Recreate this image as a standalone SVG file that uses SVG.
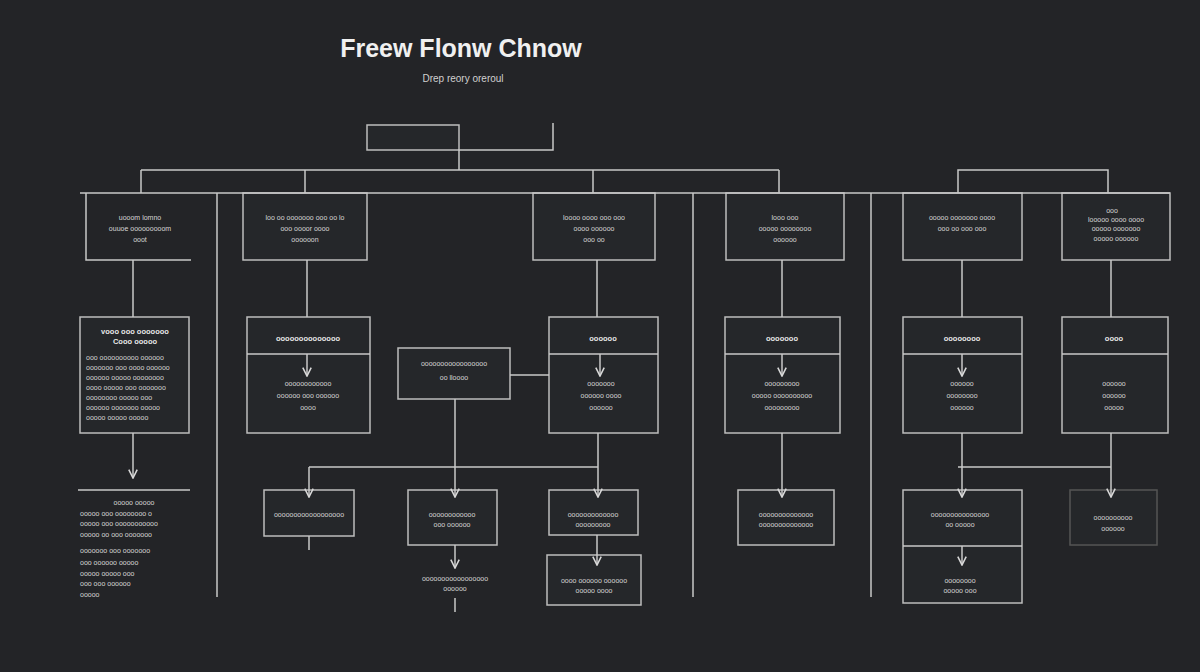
<svg xmlns="http://www.w3.org/2000/svg" width="1200" height="672" viewBox="0 0 1200 672">
<defs>
<marker id="ar" viewBox="0 0 10 10" refX="9" refY="5" markerWidth="7" markerHeight="7" orient="auto"><path d="M1,1 L9,5 L1,9" fill="none" stroke="#d8d8d8" stroke-width="1.5"/></marker>
<style>
.b{fill:#25272a;stroke:#bdbdbd;stroke-width:1.5}
.l{fill:none;stroke:#c8c8c8;stroke-width:1.5}
.a{fill:none;stroke:#c8c8c8;stroke-width:1.5;marker-end:url(#ar)}
.t{font-family:"Liberation Sans",Arial,sans-serif;font-size:7px;fill:#d6d6d6;text-anchor:middle}
.h{font-family:"Liberation Sans",Arial,sans-serif;font-size:7.5px;fill:#e8e8e8;text-anchor:middle;font-weight:bold}
.tl{font-family:"Liberation Sans",Arial,sans-serif;font-size:7px;fill:#d6d6d6}
</style>
</defs>
<rect width="1200" height="672" fill="#232427"/>
<text x="461" y="57" font-family="Liberation Sans,Arial,sans-serif" font-size="25" font-weight="bold" fill="#f0f0f0" text-anchor="middle">Freew Flonw Chnow</text>
<text x="463" y="82" font-family="Liberation Sans,Arial,sans-serif" font-size="10" fill="#d0d0d0" text-anchor="middle">Drep reory oreroul</text>
<g id="top"><path class="b" d="M367,125 H459 V150 H367 Z"/></g>
<g id="r1a"><path class="l" d="M86,193 V260 H191"/><text class="t" x="140" y="220">uooom lomno</text><text class="t" x="140" y="231">ouuoe ooooooooom</text><text class="t" x="140" y="242">ooot</text></g>
<g id="r1b"><rect class="b" x="243" y="193" width="124" height="67"/><text class="t" x="305" y="220">loo oo ooooooo ooo oo lo</text><text class="t" x="305" y="231">ooo oooor oooo</text><text class="t" x="305" y="242">oooooon</text></g>
<g id="r1c"><rect class="b" x="533" y="193" width="122" height="67"/><text class="t" x="594" y="220">loooo oooo ooo ooo</text><text class="t" x="594" y="231">oooo oooooo</text><text class="t" x="594" y="242">ooo oo</text></g>
<g id="r1d"><rect class="b" x="726" y="193" width="118" height="67"/><text class="t" x="785" y="220">looo ooo</text><text class="t" x="785" y="231">ooooo oooooooo</text><text class="t" x="785" y="242">oooooo</text></g>
<g id="r1e"><rect class="b" x="903" y="193" width="119" height="67"/><text class="t" x="962" y="220">ooooo ooooooo oooo</text><text class="t" x="962" y="231">ooo oo ooo ooo</text></g>
<g id="r1f"><rect class="b" x="1062" y="193" width="108" height="67"/><text class="t" x="1112" y="213">ooo</text><text class="t" x="1116" y="222">looooo oooo oooo</text><text class="t" x="1116" y="231">ooooo ooooooo</text><text class="t" x="1116" y="241">ooooo oooooo</text></g>
<g id="r2a"><rect class="b" x="80" y="317" width="109" height="116"/><text class="h" x="135" y="334">vooo ooo ooooooo</text><text class="h" x="135" y="344">Cooo ooooo</text>
<text class="tl" x="86" y="360">ooo oooooooooo oooooo</text><text class="tl" x="86" y="370">ooooooo ooo oooo oooooo</text><text class="tl" x="86" y="380">oooooo ooooo oooooooo</text><text class="tl" x="86" y="390">oooo ooooo ooo ooooooo</text><text class="tl" x="86" y="400">oooooooo ooooo ooo</text><text class="tl" x="86" y="410">oooooo ooooooo ooooo</text><text class="tl" x="86" y="420">ooooo ooooo ooooo</text></g>
<g id="r2b"><rect class="b" x="247" y="317" width="123" height="116"/><path class="l" d="M247,354 H370"/><text class="h" x="308" y="341">oooooooooooooo</text><text class="t" x="308" y="386">oooooooooooo</text><text class="t" x="308" y="398">oooooo ooo oooooo</text><text class="t" x="308" y="410">oooo</text></g>
<g id="mid"><rect class="b" x="398" y="348" width="112" height="51"/><text class="t" x="454" y="366">ooooooooooooooooo</text><text class="t" x="454" y="380">oo lloooo</text></g>
<g id="r2c"><rect class="b" x="549" y="317" width="109" height="116"/><path class="l" d="M549,354 H658"/><text class="h" x="603" y="341">oooooo</text><text class="t" x="601" y="386">ooooooo</text><text class="t" x="601" y="398">oooooo oooo</text><text class="t" x="601" y="410">oooooo</text></g>
<g id="r2d"><rect class="b" x="725" y="317" width="115" height="116"/><path class="l" d="M725,354 H840"/><text class="h" x="782" y="341">ooooooo</text><text class="t" x="782" y="386">ooooooooo</text><text class="t" x="782" y="398">ooooo oooooooooo</text><text class="t" x="782" y="410">ooooooooo</text></g>
<g id="r2e"><rect class="b" x="903" y="317" width="119" height="116"/><path class="l" d="M903,354 H1022"/><text class="h" x="962" y="341">oooooooo</text><text class="t" x="962" y="386">oooooo</text><text class="t" x="962" y="398">oooooooo</text><text class="t" x="962" y="410">oooooo</text></g>
<g id="r2f"><rect class="b" x="1062" y="317" width="106" height="116"/><path class="l" d="M1062,354 H1168"/><text class="h" x="1114" y="341">oooo</text><text class="t" x="1114" y="386">oooooo</text><text class="t" x="1114" y="398">oooooo</text><text class="t" x="1114" y="410">ooooo</text></g>
<g id="r3a"><path class="l" d="M78,490 H190"/><text class="t" x="134" y="505">ooooo ooooo</text><text class="tl" x="80" y="516">ooooo ooo oooooooo o</text><text class="tl" x="80" y="526">ooooo ooo ooooooooooo</text><text class="tl" x="80" y="537">ooooo oo ooo ooooooo</text><text class="tl" x="80" y="553">ooooooo ooo ooooooo</text><text class="tl" x="80" y="565">ooo oooooo ooooo</text><text class="tl" x="80" y="576">ooooo ooooo ooo</text><text class="tl" x="80" y="586">ooo ooo oooooo</text><text class="tl" x="80" y="597">ooooo</text></g>
<g id="r3b"><rect class="b" x="264" y="490" width="90" height="46"/><text class="t" x="309" y="517">oooooooooooooooooo</text></g>
<g id="r3c"><rect class="b" x="408" y="490" width="89" height="55"/><text class="t" x="452" y="517">oooooooooooo</text><text class="t" x="452" y="527">ooo oooooo</text><text class="t" x="455" y="581">ooooooooooooooooo</text><text class="t" x="455" y="591">oooooo</text></g>
<g id="r3d"><rect class="b" x="549" y="490" width="89" height="45"/><text class="t" x="593" y="517">ooooooooooooo</text><text class="t" x="593" y="527">ooooooooo</text></g>
<g id="r3e"><rect class="b" x="547" y="555" width="94" height="50"/><text class="t" x="594" y="583">oooo oooooo oooooo</text><text class="t" x="594" y="593">ooooo oooo</text></g>
<g id="r3f"><rect class="b" x="738" y="490" width="96" height="55"/><text class="t" x="786" y="517">oooooooooooooo</text><text class="t" x="786" y="527">oooooooooooooo</text></g>
<g id="r3g"><rect class="b" x="903" y="490" width="119" height="113"/><path class="l" d="M903,546 H1022"/><text class="t" x="960" y="517">ooooooooooooooo</text><text class="t" x="960" y="527">oo ooooo</text><text class="t" x="960" y="583">oooooooo</text><text class="t" x="960" y="593">ooooo ooo</text></g>
<g id="r3h"><rect class="b" x="1070" y="490" width="87" height="55" style="stroke:#555"/><text class="t" x="1113" y="520">oooooooooo</text><text class="t" x="1113" y="531">oooooo</text></g>
<g id="connectors">
<path class="l" d="M553,123 V150 H459 V170 M141,170 H779 M141,170 V193 M305,170 V193 M593,170 V193 M779,170 V193"/>
<path class="l" d="M80,193 H1170 M217,193 V597 M693,193 V597 M871,193 V597 M958,193 V170 H1108 V193"/>
<path class="l" d="M133,260 V317 M307,260 V317 M597,260 V317 M782,260 V317 M962,260 V317 M1111,260 V317 M510,375 H549"/>
<path class="a" d="M133,433 V478"/>
<path class="l" d="M309,467 H598 M958,467 H1111 M455,399 V467 M309,536 V550 M455,598 V612"/>
<path class="a" d="M309,467 V497"/><path class="a" d="M455,467 V497"/><path class="a" d="M598,433 V497"/>
<path class="a" d="M782,433 V497"/><path class="a" d="M962,433 V497"/><path class="a" d="M1111,433 V497"/>
<path class="a" d="M455,545 V568"/><path class="a" d="M597,535 V565"/><path class="a" d="M962,546 V565"/>
<path class="a" d="M307,354 V376"/><path class="a" d="M600,354 V376"/><path class="a" d="M782,354 V376"/><path class="a" d="M962,354 V376"/>
</g>
</svg>
